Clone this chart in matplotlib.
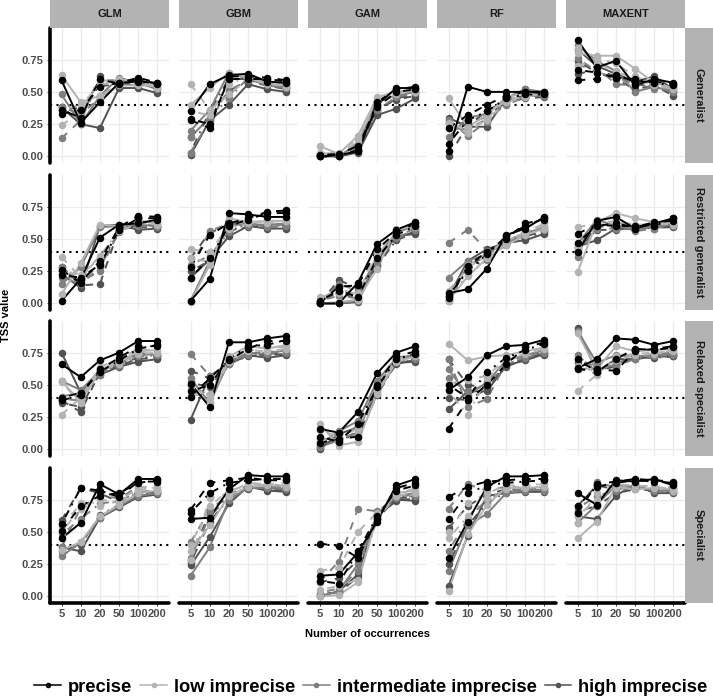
import matplotlib
matplotlib.use("Agg")
import matplotlib.pyplot as plt
import numpy as np
from matplotlib.lines import Line2D
from matplotlib.patches import Rectangle

W, H = 713, 697

occurrences = ["5", "10", "20", "50", "100", "200"]
models = ["GLM", "GBM", "GAM", "RF", "MAXENT"]
species = ["Generalist", "Restricted generalist", "Relaxed specialist", "Specialist"]
imprecision = ["precise", "low imprecise", "intermediate imprecise", "high imprecise"]
threshold = 0.4

# rows of each block: precise (solid, dashed, dotdash), low, intermediate, high
generalist_glm = [
    [0.59, 0.26, 0.42, 0.57, 0.58, 0.57], [0.33, 0.36, 0.54, 0.57, 0.61, 0.57], [0.36, 0.30, 0.60, 0.56, 0.60, 0.56],
    [0.63, 0.42, 0.47, 0.55, 0.55, 0.55], [0.24, 0.35, 0.59, 0.58, 0.57, 0.54], [0.36, 0.40, 0.55, 0.60, 0.58, 0.53],
    [0.48, 0.25, 0.47, 0.61, 0.57, 0.52], [0.14, 0.28, 0.59, 0.59, 0.56, 0.55], [0.38, 0.33, 0.45, 0.58, 0.60, 0.54],
    [0.38, 0.25, 0.22, 0.53, 0.53, 0.49], [0.36, 0.30, 0.62, 0.56, 0.55, 0.56], [0.38, 0.37, 0.55, 0.55, 0.58, 0.52],
]
generalist_gbm = [
    [0.35, 0.56, 0.63, 0.64, 0.58, 0.57], [0.28, 0.22, 0.62, 0.62, 0.61, 0.59], [0.29, 0.25, 0.60, 0.60, 0.60, 0.58],
    [0.40, 0.53, 0.65, 0.61, 0.56, 0.55], [0.56, 0.36, 0.48, 0.60, 0.58, 0.56], [0.35, 0.32, 0.56, 0.62, 0.57, 0.54],
    [0.20, 0.36, 0.65, 0.60, 0.55, 0.53], [0.03, 0.28, 0.51, 0.59, 0.56, 0.54], [0.15, 0.30, 0.45, 0.61, 0.57, 0.55],
    [0.01, 0.28, 0.40, 0.56, 0.52, 0.50], [0.15, 0.30, 0.51, 0.58, 0.55, 0.52], [0.03, 0.35, 0.60, 0.60, 0.56, 0.53],
]
generalist_gam = [
    [0.00, 0.01, 0.04, 0.40, 0.53, 0.53], [0.00, 0.00, 0.05, 0.42, 0.52, 0.54], [0.01, 0.02, 0.08, 0.38, 0.50, 0.52],
    [0.08, 0.02, 0.16, 0.46, 0.50, 0.51], [0.03, 0.01, 0.12, 0.44, 0.49, 0.50], [0.02, 0.03, 0.14, 0.41, 0.48, 0.52],
    [0.01, 0.00, 0.10, 0.43, 0.47, 0.50], [0.00, 0.01, 0.06, 0.36, 0.46, 0.49], [0.02, 0.00, 0.09, 0.39, 0.51, 0.50],
    [0.00, 0.00, 0.03, 0.32, 0.37, 0.45], [0.00, 0.01, 0.05, 0.35, 0.45, 0.48], [0.01, 0.00, 0.04, 0.37, 0.44, 0.47],
]
generalist_rf = [
    [0.04, 0.54, 0.50, 0.50, 0.50, 0.50], [0.22, 0.32, 0.40, 0.47, 0.50, 0.49], [0.10, 0.28, 0.35, 0.45, 0.48, 0.48],
    [0.45, 0.23, 0.32, 0.46, 0.49, 0.50], [0.25, 0.18, 0.30, 0.44, 0.47, 0.48], [0.26, 0.20, 0.28, 0.42, 0.46, 0.49],
    [0.15, 0.30, 0.33, 0.45, 0.52, 0.50], [0.28, 0.16, 0.27, 0.43, 0.48, 0.47], [0.22, 0.21, 0.29, 0.40, 0.46, 0.48],
    [0.30, 0.23, 0.23, 0.45, 0.52, 0.48], [0.00, 0.24, 0.35, 0.44, 0.47, 0.47], [0.27, 0.25, 0.31, 0.42, 0.45, 0.46],
]
generalist_maxent = [
    [0.90, 0.69, 0.74, 0.55, 0.60, 0.57], [0.59, 0.60, 0.63, 0.58, 0.58, 0.56], [0.67, 0.65, 0.61, 0.60, 0.57, 0.55],
    [0.80, 0.78, 0.78, 0.68, 0.57, 0.53], [0.70, 0.76, 0.72, 0.62, 0.56, 0.53], [0.84, 0.72, 0.66, 0.60, 0.55, 0.52],
    [0.86, 0.74, 0.66, 0.50, 0.54, 0.50], [0.70, 0.69, 0.56, 0.55, 0.56, 0.51], [0.76, 0.66, 0.60, 0.57, 0.52, 0.54],
    [0.83, 0.70, 0.64, 0.58, 0.62, 0.52], [0.64, 0.67, 0.62, 0.56, 0.54, 0.50], [0.74, 0.65, 0.60, 0.52, 0.55, 0.47],
]
restricted_glm = [
    [0.02, 0.19, 0.51, 0.61, 0.62, 0.65], [0.26, 0.16, 0.33, 0.59, 0.68, 0.67], [0.22, 0.20, 0.30, 0.57, 0.66, 0.66],
    [0.07, 0.31, 0.61, 0.60, 0.64, 0.63], [0.36, 0.20, 0.37, 0.56, 0.62, 0.62], [0.25, 0.22, 0.35, 0.58, 0.63, 0.61],
    [0.15, 0.28, 0.59, 0.60, 0.61, 0.60], [0.28, 0.17, 0.25, 0.57, 0.60, 0.59], [0.20, 0.15, 0.28, 0.55, 0.64, 0.62],
    [0.23, 0.12, 0.60, 0.61, 0.57, 0.58], [0.28, 0.14, 0.15, 0.58, 0.59, 0.59], [0.25, 0.18, 0.30, 0.56, 0.61, 0.60],
]
restricted_gbm = [
    [0.02, 0.19, 0.70, 0.69, 0.67, 0.67], [0.28, 0.53, 0.62, 0.66, 0.71, 0.72], [0.20, 0.35, 0.60, 0.65, 0.70, 0.70],
    [0.01, 0.30, 0.66, 0.63, 0.64, 0.64], [0.42, 0.40, 0.60, 0.64, 0.62, 0.66], [0.35, 0.32, 0.58, 0.62, 0.63, 0.64],
    [0.02, 0.33, 0.61, 0.61, 0.61, 0.62], [0.28, 0.56, 0.62, 0.60, 0.60, 0.61], [0.30, 0.37, 0.55, 0.62, 0.59, 0.60],
    [0.20, 0.34, 0.52, 0.60, 0.58, 0.58], [0.35, 0.55, 0.60, 0.62, 0.60, 0.59], [0.25, 0.33, 0.57, 0.59, 0.61, 0.60],
]
restricted_gam = [
    [0.00, 0.00, 0.16, 0.46, 0.57, 0.63], [0.00, 0.13, 0.14, 0.42, 0.55, 0.62], [0.02, 0.10, 0.05, 0.35, 0.53, 0.60],
    [0.00, 0.01, 0.03, 0.27, 0.58, 0.60], [0.05, 0.08, 0.08, 0.40, 0.56, 0.59], [0.03, 0.12, 0.06, 0.38, 0.54, 0.61],
    [0.00, 0.00, 0.02, 0.36, 0.55, 0.60], [0.01, 0.15, 0.10, 0.34, 0.52, 0.58], [0.02, 0.06, 0.04, 0.31, 0.51, 0.57],
    [0.00, 0.00, 0.01, 0.33, 0.52, 0.54], [0.00, 0.18, 0.12, 0.30, 0.50, 0.56], [0.01, 0.09, 0.03, 0.29, 0.49, 0.55],
]
restricted_rf = [
    [0.08, 0.11, 0.27, 0.53, 0.58, 0.67], [0.04, 0.29, 0.40, 0.50, 0.62, 0.65], [0.06, 0.25, 0.38, 0.52, 0.60, 0.66],
    [0.02, 0.21, 0.35, 0.45, 0.53, 0.58], [0.10, 0.27, 0.39, 0.48, 0.56, 0.60], [0.05, 0.30, 0.36, 0.47, 0.55, 0.62],
    [0.20, 0.33, 0.38, 0.48, 0.55, 0.58], [0.47, 0.57, 0.41, 0.47, 0.53, 0.57], [0.03, 0.22, 0.34, 0.46, 0.54, 0.59],
    [0.05, 0.33, 0.42, 0.47, 0.49, 0.54], [0.02, 0.29, 0.37, 0.49, 0.52, 0.56], [0.07, 0.26, 0.35, 0.45, 0.51, 0.55],
]
restricted_maxent = [
    [0.40, 0.64, 0.67, 0.58, 0.62, 0.66], [0.54, 0.61, 0.60, 0.60, 0.60, 0.66], [0.47, 0.60, 0.62, 0.59, 0.63, 0.64],
    [0.24, 0.63, 0.70, 0.66, 0.63, 0.62], [0.59, 0.62, 0.64, 0.61, 0.61, 0.63], [0.43, 0.60, 0.63, 0.60, 0.62, 0.61],
    [0.46, 0.65, 0.60, 0.57, 0.60, 0.61], [0.36, 0.58, 0.58, 0.58, 0.59, 0.60], [0.44, 0.61, 0.61, 0.56, 0.58, 0.62],
    [0.44, 0.49, 0.58, 0.58, 0.59, 0.59], [0.40, 0.60, 0.59, 0.57, 0.60, 0.61], [0.42, 0.57, 0.57, 0.59, 0.58, 0.60],
]
relaxed_glm = [
    [0.66, 0.56, 0.69, 0.75, 0.84, 0.84], [0.38, 0.42, 0.62, 0.71, 0.80, 0.80], [0.40, 0.44, 0.60, 0.69, 0.78, 0.81],
    [0.53, 0.37, 0.62, 0.68, 0.76, 0.77], [0.27, 0.40, 0.64, 0.70, 0.78, 0.76], [0.52, 0.36, 0.61, 0.66, 0.74, 0.75],
    [0.53, 0.46, 0.61, 0.66, 0.75, 0.73], [0.41, 0.44, 0.58, 0.67, 0.73, 0.74], [0.39, 0.38, 0.60, 0.65, 0.72, 0.73],
    [0.75, 0.44, 0.58, 0.64, 0.68, 0.70], [0.38, 0.29, 0.60, 0.65, 0.70, 0.71], [0.36, 0.33, 0.59, 0.66, 0.71, 0.72],
]
relaxed_gbm = [
    [0.51, 0.33, 0.83, 0.83, 0.86, 0.88], [0.41, 0.55, 0.69, 0.78, 0.84, 0.84], [0.45, 0.50, 0.70, 0.80, 0.81, 0.85],
    [0.47, 0.36, 0.72, 0.80, 0.78, 0.81], [0.42, 0.43, 0.70, 0.76, 0.80, 0.79], [0.50, 0.40, 0.68, 0.77, 0.76, 0.78],
    [0.55, 0.36, 0.68, 0.75, 0.74, 0.77], [0.74, 0.57, 0.67, 0.74, 0.76, 0.75], [0.49, 0.42, 0.66, 0.73, 0.75, 0.76],
    [0.23, 0.57, 0.66, 0.73, 0.71, 0.73], [0.61, 0.55, 0.68, 0.74, 0.73, 0.74], [0.52, 0.48, 0.67, 0.72, 0.74, 0.75],
]
relaxed_gam = [
    [0.16, 0.13, 0.29, 0.59, 0.75, 0.80], [0.05, 0.08, 0.10, 0.50, 0.72, 0.76], [0.10, 0.06, 0.20, 0.48, 0.70, 0.74],
    [0.20, 0.03, 0.06, 0.43, 0.68, 0.72], [0.08, 0.05, 0.12, 0.46, 0.70, 0.73], [0.15, 0.10, 0.16, 0.50, 0.71, 0.75],
    [0.04, 0.14, 0.22, 0.53, 0.71, 0.73], [0.07, 0.10, 0.18, 0.49, 0.69, 0.72], [0.02, 0.07, 0.14, 0.47, 0.68, 0.70],
    [0.00, 0.12, 0.17, 0.44, 0.67, 0.68], [0.03, 0.06, 0.13, 0.45, 0.66, 0.70], [0.01, 0.09, 0.10, 0.42, 0.67, 0.69],
]
relaxed_rf = [
    [0.46, 0.56, 0.73, 0.80, 0.81, 0.85], [0.16, 0.38, 0.50, 0.66, 0.79, 0.83], [0.50, 0.40, 0.60, 0.71, 0.77, 0.82],
    [0.82, 0.69, 0.72, 0.73, 0.76, 0.79], [0.51, 0.54, 0.57, 0.70, 0.74, 0.78], [0.45, 0.27, 0.55, 0.68, 0.75, 0.80],
    [0.62, 0.42, 0.52, 0.69, 0.73, 0.77], [0.70, 0.33, 0.39, 0.67, 0.72, 0.76], [0.55, 0.45, 0.50, 0.66, 0.71, 0.75],
    [0.31, 0.45, 0.45, 0.65, 0.69, 0.74], [0.70, 0.50, 0.48, 0.66, 0.70, 0.75], [0.40, 0.38, 0.47, 0.64, 0.70, 0.73],
]
relaxed_maxent = [
    [0.63, 0.70, 0.86, 0.85, 0.81, 0.84], [0.62, 0.62, 0.61, 0.76, 0.78, 0.80], [0.70, 0.60, 0.70, 0.78, 0.77, 0.79],
    [0.90, 0.62, 0.80, 0.76, 0.77, 0.78], [0.45, 0.58, 0.72, 0.74, 0.75, 0.76], [0.65, 0.60, 0.69, 0.73, 0.74, 0.77],
    [0.92, 0.67, 0.73, 0.72, 0.73, 0.74], [0.73, 0.60, 0.67, 0.71, 0.74, 0.75], [0.70, 0.64, 0.65, 0.70, 0.72, 0.73],
    [0.94, 0.60, 0.70, 0.70, 0.72, 0.72], [0.63, 0.59, 0.66, 0.72, 0.73, 0.73], [0.68, 0.62, 0.64, 0.71, 0.71, 0.72],
]
specialist_glm = [
    [0.45, 0.57, 0.87, 0.79, 0.91, 0.91], [0.51, 0.70, 0.78, 0.80, 0.88, 0.90], [0.56, 0.84, 0.82, 0.77, 0.89, 0.89],
    [0.36, 0.42, 0.62, 0.71, 0.80, 0.82], [0.54, 0.72, 0.70, 0.74, 0.84, 0.86], [0.50, 0.68, 0.75, 0.73, 0.82, 0.85],
    [0.31, 0.42, 0.61, 0.70, 0.78, 0.80], [0.38, 0.69, 0.78, 0.76, 0.85, 0.83], [0.48, 0.60, 0.72, 0.74, 0.81, 0.82],
    [0.38, 0.35, 0.61, 0.69, 0.77, 0.79], [0.59, 0.84, 0.80, 0.73, 0.80, 0.81], [0.35, 0.40, 0.63, 0.71, 0.79, 0.80],
]
specialist_gbm = [
    [0.60, 0.61, 0.83, 0.94, 0.93, 0.93], [0.67, 0.88, 0.90, 0.92, 0.90, 0.90], [0.65, 0.80, 0.88, 0.90, 0.91, 0.91],
    [0.35, 0.55, 0.78, 0.85, 0.86, 0.86], [0.28, 0.76, 0.80, 0.88, 0.87, 0.88], [0.40, 0.70, 0.82, 0.86, 0.88, 0.85],
    [0.16, 0.38, 0.75, 0.84, 0.84, 0.83], [0.42, 0.67, 0.79, 0.86, 0.86, 0.84], [0.30, 0.62, 0.77, 0.85, 0.85, 0.84],
    [0.24, 0.46, 0.72, 0.85, 0.82, 0.81], [0.28, 0.66, 0.78, 0.84, 0.83, 0.82], [0.26, 0.58, 0.76, 0.83, 0.84, 0.83],
]
specialist_gam = [
    [0.16, 0.17, 0.34, 0.58, 0.86, 0.91], [0.41, 0.39, 0.30, 0.60, 0.84, 0.88], [0.12, 0.10, 0.35, 0.62, 0.82, 0.86],
    [0.00, 0.01, 0.11, 0.62, 0.80, 0.82], [0.20, 0.22, 0.50, 0.65, 0.79, 0.84], [0.05, 0.08, 0.13, 0.60, 0.78, 0.80],
    [0.00, 0.04, 0.25, 0.63, 0.78, 0.80], [0.11, 0.27, 0.68, 0.66, 0.76, 0.78], [0.03, 0.06, 0.20, 0.61, 0.77, 0.79],
    [0.00, 0.04, 0.17, 0.64, 0.75, 0.74], [0.11, 0.14, 0.28, 0.62, 0.74, 0.76], [0.02, 0.03, 0.15, 0.60, 0.76, 0.77],
]
specialist_rf = [
    [0.30, 0.58, 0.85, 0.93, 0.93, 0.94], [0.77, 0.85, 0.89, 0.90, 0.91, 0.91], [0.60, 0.80, 0.86, 0.88, 0.89, 0.90],
    [0.04, 0.48, 0.71, 0.84, 0.84, 0.85], [0.50, 0.72, 0.80, 0.86, 0.86, 0.87], [0.45, 0.62, 0.76, 0.83, 0.85, 0.88],
    [0.20, 0.55, 0.64, 0.80, 0.82, 0.83], [0.68, 0.87, 0.82, 0.85, 0.84, 0.84], [0.35, 0.60, 0.75, 0.82, 0.83, 0.82],
    [0.08, 0.47, 0.78, 0.80, 0.81, 0.81], [0.53, 0.70, 0.79, 0.83, 0.82, 0.83], [0.25, 0.55, 0.72, 0.81, 0.82, 0.82],
]
specialist_maxent = [
    [0.80, 0.71, 0.90, 0.89, 0.91, 0.86], [0.65, 0.87, 0.89, 0.91, 0.90, 0.89], [0.70, 0.85, 0.88, 0.90, 0.89, 0.88],
    [0.45, 0.58, 0.85, 0.83, 0.84, 0.83], [0.57, 0.80, 0.87, 0.86, 0.85, 0.85], [0.62, 0.75, 0.84, 0.85, 0.86, 0.82],
    [0.57, 0.71, 0.86, 0.85, 0.82, 0.82], [0.65, 0.89, 0.84, 0.84, 0.84, 0.84], [0.68, 0.78, 0.82, 0.84, 0.83, 0.81],
    [0.62, 0.60, 0.78, 0.87, 0.80, 0.80], [0.70, 0.86, 0.83, 0.85, 0.81, 0.83], [0.66, 0.70, 0.80, 0.83, 0.82, 0.81],
]

tss = {
    "Generalist": [generalist_glm, generalist_gbm, generalist_gam, generalist_rf, generalist_maxent],
    "Restricted generalist": [restricted_glm, restricted_gbm, restricted_gam, restricted_rf, restricted_maxent],
    "Relaxed specialist": [relaxed_glm, relaxed_gbm, relaxed_gam, relaxed_rf, relaxed_maxent],
    "Specialist": [specialist_glm, specialist_gbm, specialist_gam, specialist_rf, specialist_maxent],
}

COLORS = {
    "precise": "#000000",
    "low imprecise": "#b3b3b3",
    "intermediate imprecise": "#7f7f7f",
    "high imprecise": "#525252",
}
LINESTYLES = ["solid", (0, (4, 4)), (0, (1, 3, 4, 3))]
STRIP_COLOR = "#b3b3b3"

plt.rcParams.update({
    "font.family": ["Liberation Sans", "DejaVu Sans"],
    "font.weight": "bold",
})

COL_LEFT = [50, 179, 308, 437, 566]
ROW_TOP = [28, 175, 321, 468]
PANEL_W, PANEL_H = 119, 134.5


def box(left, top, width, height):
    return [left / W, 1 - (top + height) / H, width / W, height / H]


fig = plt.figure(figsize=(W / 100, H / 100), dpi=100)
positions = np.arange(len(occurrences))

for r, sp in enumerate(species):
    for c, model in enumerate(models):
        ax = fig.add_axes(box(COL_LEFT[c], ROW_TOP[r], PANEL_W, PANEL_H))
        ax.set_xlim(-0.6, 5.6)
        ax.set_ylim(-0.047, 0.995)
        ax.set_xticks(positions, occurrences)
        ax.set_yticks([0, 0.25, 0.5, 0.75], ["0.00", "0.25", "0.50", "0.75"])
        ax.grid(True, color="#ebebeb", linewidth=0.9)
        ax.set_axisbelow(True)
        for spine in ax.spines.values():
            spine.set_visible(False)
        ax.tick_params(axis="both", colors="#333333", labelcolor="#4d4d4d",
                       labelsize=8, length=2.2, width=0.7, pad=2.5)
        ax.tick_params(axis="y", left=(c == 0), labelleft=(c == 0))
        ax.tick_params(axis="x", bottom=(r == 3), labelbottom=(r == 3))
        if c == 0:
            ax.spines["left"].set_visible(True)
            ax.spines["left"].set_linewidth(2.6)
            ax.spines["left"].set_capstyle("round")
        if r == 3:
            ax.spines["bottom"].set_visible(True)
            ax.spines["bottom"].set_linewidth(2.6)
            ax.spines["bottom"].set_capstyle("round")

        ax.axhline(threshold, color="black", linestyle=(0, (1, 2.1)), linewidth=1.5, zorder=1.5)

        values = tss[sp][c]
        order = [3, 2, 1, 0]
        for level in order:
            color = COLORS[imprecision[level]]
            for k, ls in enumerate(LINESTYLES):
                ax.plot(positions, values[level * 3 + k], color=color, linestyle=ls,
                        linewidth=1.4, zorder=2 + (3 - level) * 0.1)
        for level in order:
            color = COLORS[imprecision[level]]
            for k in range(3):
                ax.plot(positions, values[level * 3 + k], linestyle="none", marker="o",
                        markersize=4.4, color=color, zorder=3 + (3 - level) * 0.1)

# facet strips
for c, model in enumerate(models):
    fig.patches.append(Rectangle((COL_LEFT[c] / W, 1 - 27.7 / H), PANEL_W / W, 27.7 / H,
                                 transform=fig.transFigure, facecolor=STRIP_COLOR, edgecolor="none"))
    fig.text((COL_LEFT[c] + PANEL_W / 2) / W, 1 - 14 / H, model, ha="center", va="center",
             fontsize=8, fontweight="bold", color="#1a1a1a")
for r, sp in enumerate(species):
    fig.patches.append(Rectangle((685 / W, 1 - (ROW_TOP[r] + PANEL_H) / H), 28 / W, PANEL_H / H,
                                 transform=fig.transFigure, facecolor=STRIP_COLOR, edgecolor="none"))
    fig.text(699 / W, 1 - (ROW_TOP[r] + PANEL_H / 2) / H, sp, ha="center", va="center",
             rotation=-90, fontsize=8, fontweight="bold", color="#1a1a1a")

fig.text(367.5 / W, 1 - 634 / H, "Number of occurrences", ha="center", va="center",
         fontsize=8, fontweight="bold")
fig.text(6 / W, 1 - 315.5 / H, "TSS value", ha="center", va="center", rotation=90,
         fontsize=8, fontweight="bold")

handles = [Line2D([0], [0], color=COLORS[name], linewidth=1.1, marker="o", markersize=3)
           for name in imprecision]
fig.legend(handles, imprecision, loc="center", bbox_to_anchor=(371 / W, 1 - 687 / H), ncol=4,
           frameon=False, prop={"size": 13.2, "weight": "bold"}, handlelength=1.44,
           handletextpad=0.39, columnspacing=0.44, borderaxespad=0)

fig.savefig("out.png", dpi=100)
